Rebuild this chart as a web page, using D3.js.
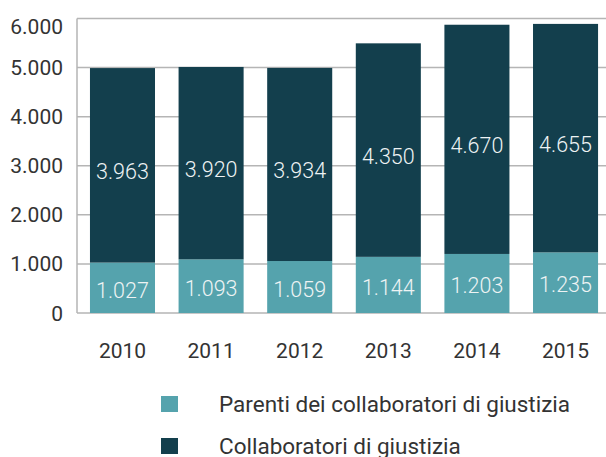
<!DOCTYPE html>
<html>
<head>
<meta charset="utf-8">
<script src="https://cdn.jsdelivr.net/npm/d3@7"></script>
<style>
    body { margin: 0; background: #fff; }
    text { font-family: Roboto, "Noto Sans", sans-serif; }
</style>
</head>
<body>
<div id="chart"></div>
<script>
// data
const years = ["2010", "2011", "2012", "2013", "2014", "2015"];
const parenti = [1027, 1093, 1059, 1144, 1203, 1235];
const collaboratori = [3963, 3920, 3934, 4350, 4670, 4655];
const yTicks = [0, 1000, 2000, 3000, 4000, 5000, 6000];
const seriesNames = ["Parenti dei collaboratori di giustizia", "Collaboratori di giustizia"];
const colors = ["#55a3ad", "#133f4d"];

const width = 606, height = 457;
const margin = {left: 77, right: 606, top: 18.5, bottom: 313};

let fmt = d3.format(",");
function itNum(v) { return fmt(v).replace(/,/g, "."); }

let svg = d3.select("#chart").append("svg")
    .attr("width", width)
    .attr("height", height);

let x = d3.scaleBand()
    .domain(years)
    .range([margin.left, margin.right])
    .paddingInner(0.266)
    .paddingOuter(0.118)
    .align(0.62);

let y = d3.scaleLinear()
    .domain([0, 6000])
    .range([margin.bottom, margin.top]);

// gridlines
svg.append("g")
    .selectAll("line")
    .data(yTicks)
    .enter()
    .append("line")
    .attr("x1", margin.left)
    .attr("x2", margin.right)
    .attr("y1", d => y(d))
    .attr("y2", d => y(d))
    .attr("stroke", "#b5b5b5")
    .attr("stroke-width", 1.5);

// left axis line
svg.append("line")
    .attr("x1", margin.left).attr("x2", margin.left)
    .attr("y1", y(6000)).attr("y2", y(0))
    .attr("stroke", "#b5b5b5")
    .attr("stroke-width", 1.5);

// y tick labels
svg.append("g")
    .selectAll("text")
    .data(yTicks)
    .enter()
    .append("text")
    .attr("x", 63)
    .attr("y", d => Math.max(y(d), 26))
    .attr("dy", "0.36em")
    .attr("text-anchor", "end")
    .attr("fill", "#333")
    .style("font-size", "21px")
    .text(d => itNum(d));

// stacked rows
let rows = years.map((yr, i) => ({year: yr, a: parenti[i], b: collaboratori[i]}));
let stack = d3.stack().keys(["a", "b"])(rows);

let layers = svg.selectAll(".layer")
    .data(stack)
    .enter()
    .append("g")
    .attr("class", "layer")
    .attr("fill", (d, i) => colors[i]);

layers.selectAll("rect")
    .data(d => d)
    .enter()
    .append("rect")
    .attr("x", d => x(d.data.year))
    .attr("width", x.bandwidth())
    .attr("y", d => y(d[1]))
    .attr("height", d => y(d[0]) - y(d[1]));

// value labels inside the segments
let labelShift = [2, 6];
layers.selectAll("text")
    .data((d, i) => d.map(s => ({s: s, k: i})))
    .enter()
    .append("text")
    .attr("x", d => x(d.s.data.year) + x.bandwidth() / 2)
    .attr("y", d => (y(d.s[0]) + y(d.s[1])) / 2 + labelShift[d.k])
    .attr("dy", "0.36em")
    .attr("text-anchor", "middle")
    .attr("fill", "#eef3f4")
    .style("font-size", "21.5px")
    .style("font-weight", 300)
    .text(d => itNum(d.s[1] - d.s[0]));

// x labels
svg.append("g")
    .selectAll("text")
    .data(years)
    .enter()
    .append("text")
    .attr("x", d => x(d) + x.bandwidth() / 2)
    .attr("y", 358)
    .attr("text-anchor", "middle")
    .attr("fill", "#333")
    .style("font-size", "21px")
    .text(d => d);

// legend
let legend = svg.append("g")
    .selectAll("g")
    .data(seriesNames)
    .enter()
    .append("g")
    .attr("transform", (d, i) => `translate(161, ${396 + i * 42})`);

legend.append("rect")
    .attr("width", 17)
    .attr("height", 16)
    .attr("fill", (d, i) => colors[i]);

legend.append("text")
    .attr("x", 58)
    .attr("y", 15.5)
    .attr("fill", "#333")
    .style("font-size", "22.5px")
    .text(d => d);
</script>
</body>
</html>
